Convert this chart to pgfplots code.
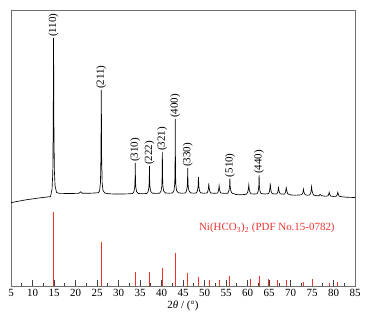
\documentclass[border=0pt]{standalone}
\usepackage{fontspec}
\setmainfont{Liberation Serif}
\usepackage{pgfplots}
\pgfplotsset{compat=1.18}
\definecolor{pdfred}{RGB}{236,52,46}
\definecolor{frame}{RGB}{110,110,110}
\tikzset{peak/.style={rotate=90, anchor=west, inner sep=1pt, font=\fontsize{11}{13}\selectfont}}

\begin{document}
\begin{tikzpicture}
\begin{axis}[
  width=344bp, height=276bp, scale only axis,
  xmin=5, xmax=85, ymin=0, ymax=276,
  xtick={5,10,...,85}, minor x tick num=1, ytick=\empty,
  xtick pos=left, tick align=inside,
  major tick length=6bp, minor tick length=3bp,
  tick style={black!75, line width=0.6pt},
  axis line style={frame, line width=0.7pt},
  ticklabel style={font=\fontsize{11}{13}\selectfont},
  /pgf/number format/assume math mode=true,
  xlabel={2\textit{θ} / (°)},
  xlabel style={font=\fontsize{11}{13}\selectfont, at={(axis description cs:0.5,0)}, anchor=north, yshift=-15bp, inner sep=0pt},
  clip=false
]
% measured pattern
\addplot[black, line width=0.65pt] coordinates {
(5,83.3)(6,84.2)(7,85)(8,85.8)(9,86.5)(10,87.1)(11,87.7)(12,88.3)(13,88.8)(14,89.3)
(14.2,89.5)(14.55,97)(14.72,113)(14.82,160)(14.9,248)(14.98,160)(15.08,116)(15.25,100)(15.6,93.5)(16.2,92.7)
(17,92.6)(18,92.5)(19,92.5)(20,92.6)(20.8,92.7)(21.2,94.2)(21.6,92.8)(22.5,92.7)(23.5,92.8)(24.5,93)
(25.3,93.3)(25.6,95)(25.8,103)(25.92,130)(26.0,196)(26.08,130)(26.2,103)(26.4,95.5)(26.8,93)(27.5,92.3)(29,92)(31,92)(32.5,92.2)
(33.3,92.5)(33.6,94.5)(33.78,99)(33.85,106)(33.9,123)(33.95,106)(34.02,99)(34.2,94.5)(34.6,92.5)(35.5,92.3)(36.5,92.5)
(36.6,92.6)(36.9,94.5)(37.08,99)(37.15,106)(37.2,120)(37.25,106)(37.32,99)(37.5,94.5)(37.9,92.8)(38.8,92.6)(39.5,92.8)
(39.6,93)(39.9,95)(40.08,100)(40.15,110)(40.2,134)(40.25,110)(40.32,100)(40.5,95)(40.9,93)(41.8,92.8)(42.5,93)
(42.6,93.2)(42.9,95.5)(43.08,102)(43.15,118)(43.2,167)(43.25,118)(43.32,102)(43.5,95.5)(43.9,93.2)(44.8,92.8)(45.5,93)
(45.6,93.1)(45.8,95)(45.98,99)(46.05,106)(46.1,118)(46.15,106)(46.22,99)(46.4,95)(46.8,93)(47.6,92.8)(48.0,93)
(48.1,93.1)(48.35,95)(48.5,99)(48.6,109)(48.7,99)(48.85,95)(49.1,93.1)(50.0,92.8)(50.5,93)
(50.6,93)(50.8,95)(50.93,98.5)(51.0,102.7)(51.07,98.5)(51.2,95)(51.45,93)(52.4,92.7)(53.0,92.9)
(53.05,93)(53.22,94.8)(53.33,97.5)(53.4,100.3)(53.47,97.5)(53.58,94.8)(53.8,93)(54.8,92.6)(55.4,92.8)
(55.45,93)(55.7,95.5)(55.83,100)(55.9,107.7)(55.97,100)(56.1,95.5)(56.35,93)(57.3,91.5)(58.5,91.2)(59.5,91.6)
(59.8,92)(60.05,94)(60.2,97)(60.3,101)(60.4,97)(60.55,94)(60.8,92.2)(61.6,92)(62.2,92.2)
(62.25,92.5)(62.5,95)(62.63,100)(62.7,111)(62.77,100)(62.9,95)(63.15,92.5)(64,92)(64.8,92.3)
(64.9,92.5)(65.1,94.5)(65.23,98)(65.3,102.7)(65.37,98)(65.5,94.5)(65.75,92.3)(66.5,92)(66.8,92.2)
(66.85,92.3)(67.05,94)(67.15,96.5)(67.2,99.3)(67.27,96.5)(67.4,94)(67.6,92.2)(68.3,91.8)(68.6,92)
(68.65,92.1)(68.85,94)(68.95,96.5)(69.0,99.3)(69.07,96.5)(69.2,94)(69.4,92)(70.2,91)(71,90.8)(72,91)(72.5,91.2)
(72.65,91.4)(72.85,93)(72.95,95)(73.0,96.7)(73.07,95)(73.2,93)(73.45,91.2)(74.0,90.8)(74.4,91)
(74.5,91.2)(74.72,93.5)(74.83,96.5)(74.9,99.3)(74.97,96.5)(75.1,93.5)(75.35,91)(76.0,90.2)(76.6,90.3)
(76.9,91.5)(77.2,90.3)(78.0,89.8)(78.6,90)
(78.75,90.3)(78.9,92)(79.0,93.7)(79.1,92)(79.3,90)(80.0,89.5)(80.6,89.8)
(80.75,90.2)(80.9,92)(81.0,93.7)(81.1,92)(81.3,89.8)(82,89.2)(83,88.8)(84,88.6)(85,88.5)
};
% reference card sticks
\addplot[ycomb, draw=pdfred, line width=1pt, no marks] coordinates {
(14.9,74)(26.0,44)(33.9,14)(37.3,14)(40.2,18)(43.2,33)(46.0,13)(48.6,9)(51.1,6)(53.5,6)
(55.8,10)(60.6,7)(62.7,10)(64.8,7)(67.0,5.5)(69.0,5.5)(73.1,4)(75.2,7)(79.0,3)(81.0,4)
};
\node[peak] at (axis cs:14.9,248) {(110)};
\node[peak] at (axis cs:26.0,196) {(211)};
\node[peak] at (axis cs:33.9,123) {(310)};
\node[peak] at (axis cs:37.2,120) {(222)};
\node[peak] at (axis cs:40.2,134) {(321)};
\node[peak] at (axis cs:43.2,167) {(400)};
\node[peak] at (axis cs:46.1,118) {(330)};
\node[peak] at (axis cs:55.9,107.7) {(510)};
\node[peak] at (axis cs:62.7,111) {(440)};
\node[text=pdfred, font=\fontsize{11}{13}\selectfont] at (axis cs:64.5,58) {Ni(HCO\textsubscript{3})\textsubscript{2} (PDF No.15-0782)};
\end{axis}
\path ([xshift=-11bp,yshift=-30bp]current axis.south west) rectangle ([xshift=12bp,yshift=10bp]current axis.north east);
\end{tikzpicture}
\end{document}
